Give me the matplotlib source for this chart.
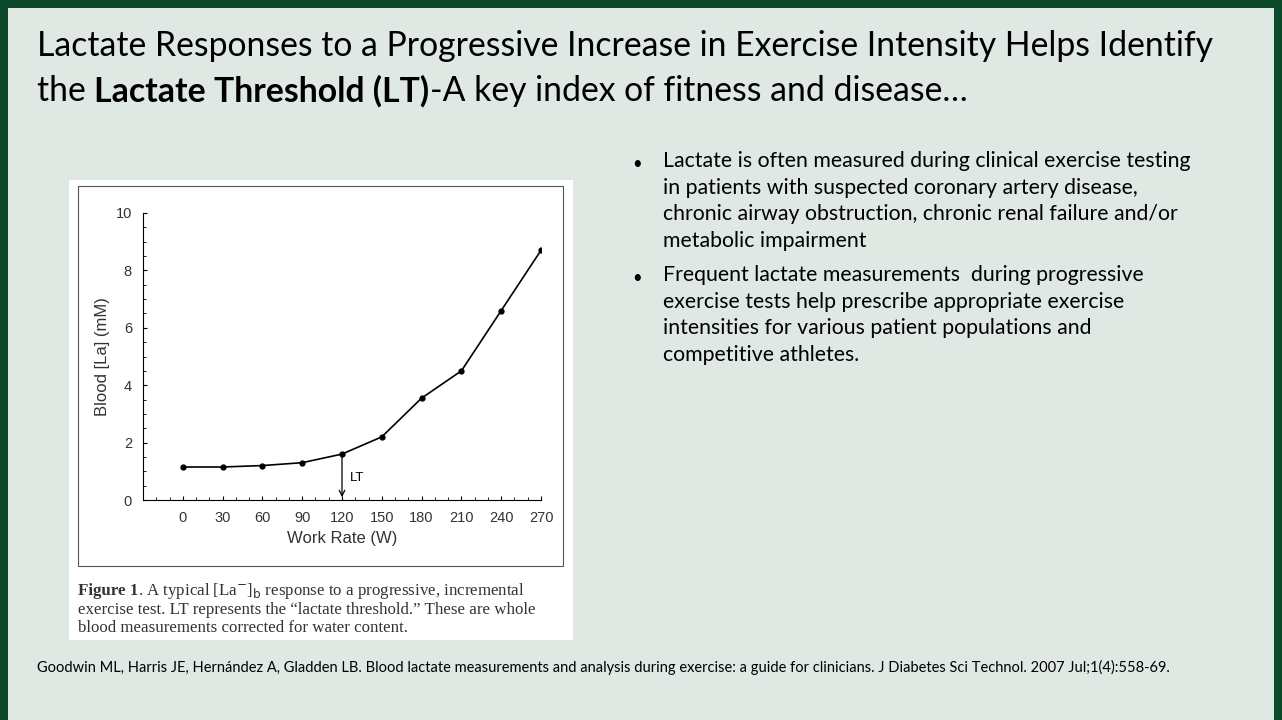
import matplotlib.pyplot as plt
from matplotlib.patches import Rectangle
from matplotlib.text import Annotation
from matplotlib.ticker import MultipleLocator

work_rate = [0, 30, 60, 90, 120, 150, 180, 210, 240, 270]
lactate = [1.15, 1.15, 1.2, 1.3, 1.6, 2.2, 3.55, 4.5, 6.6, 8.7]
lt_rate = 120

bullets = [
    "Lactate is often measured during clinical exercise testing\nin patients with suspected coronary artery disease,\nchronic airway obstruction, chronic renal failure and/or\nmetabolic impairment",
    "Frequent lactate measurements  during progressive\nexercise tests help prescribe appropriate exercise\nintensities for various patient populations and\ncompetitive athletes.",
]

W, H = 1282, 720
fig = plt.figure(figsize=(W / 100, H / 100), dpi=100)
fig.patch.set_facecolor("#0b4a2a")

def box(x, y, w, h, **kw):
    fig.patches.append(Rectangle((x / W, 1 - (y + h) / H), w / W, h / H,
                                 transform=fig.transFigure, zorder=-5, **kw))

# slide background and white figure panel
box(8, 8, 1266, 712, facecolor="#e0e8e3", edgecolor="none")
box(69, 180, 504, 460, facecolor="white", edgecolor="none")
box(78, 186, 485, 380, facecolor="none", edgecolor="#555555", lw=0.8)

def t(x, y, s, **kw):
    return fig.text(x / W, 1 - y / H, s, va="center", **kw)

def after(prev, y, s, **kw):
    # continue the same line right after the previous piece
    a = Annotation(s, xy=(1, 1 - y / H), xycoords=(prev, "figure fraction"),
                   va="center", annotation_clip=False, **kw)
    fig.add_artist(a)
    return a

title_font = "Lato"
ts = 24.3
t(37, 46, "Lactate Responses to a Progressive Increase in Exercise Intensity Helps Identify",
  fontsize=ts, family=title_font)
a = t(37, 91, "the ", fontsize=ts, family=title_font)
b = after(a, 91, "Lactate Threshold (LT)", fontsize=ts, family=title_font, weight="bold")
after(b, 91, "-A key index of fitness and disease\u2026", fontsize=ts, family=title_font)

y0 = 164
for s in bullets:
    t(632, y0, "\u2022", fontsize=12, family=title_font)
    fig.text(663 / W, 1 - (y0 - 13) / H, s, fontsize=15.3, family=title_font,
             va="top", linespacing=1.42)
    y0 += 114

t(37, 667, "Goodwin ML, Harris JE, Hern\u00e1ndez A, Gladden LB. Blood lactate measurements and analysis during exercise: a guide for clinicians. J Diabetes Sci Technol. 2007 Jul;1(4):558-69.",
  fontsize=10.5, family=title_font)

cap = "Liberation Serif"
cs = 12.2
f1 = t(78, 591, "Figure 1", fontsize=cs, family=cap, weight="bold", color="#333333")
after(f1, 591, ". A typical [La$^{-}$]$_{\\rm b}$ response to a progressive, incremental",
      fontsize=cs, family=cap, color="#333333")
t(78, 610, "exercise test. LT represents the \u201clactate threshold.\u201d These are whole",
  fontsize=cs, family=cap, color="#333333")
t(78, 628, "blood measurements corrected for water content.",
  fontsize=cs, family=cap, color="#333333")

ax = fig.add_axes([143 / W, 1 - 500 / H, 398 / W, 287 / H])
ax.set_facecolor("none")
ax.plot(work_rate, lactate, color="black", lw=1.2, marker="o", ms=3.5)
ax.annotate("", xy=(lt_rate, 0), xytext=(lt_rate, lactate[work_rate.index(lt_rate)]),
            arrowprops=dict(arrowstyle="->", lw=0.9, color="black"))
ax.text(lt_rate + 6, 0.75, "LT", fontsize=9.5, family="Liberation Sans", va="center")
ax.set_xlim(-30, 270)
ax.set_ylim(0, 10)
ax.set_xticks(work_rate)
ax.set_yticks(range(0, 11, 2))
ax.xaxis.set_minor_locator(MultipleLocator(10))
ax.yaxis.set_minor_locator(MultipleLocator(0.5))
ax.tick_params(which="both", direction="in", length=3, labelsize=10.5, pad=8)
ax.tick_params(which="minor", length=2)
for lab in ax.get_xticklabels() + ax.get_yticklabels():
    lab.set_family("Liberation Sans")
    lab.set_color("#333333")
ax.spines["top"].set_visible(False)
ax.spines["right"].set_visible(False)
ax.set_xlabel("Work Rate (W)", fontsize=12, family="Liberation Sans", color="#333333")
ax.set_ylabel("Blood [La] (mM)", fontsize=12, family="Liberation Sans", color="#333333")

fig.savefig("out.png", dpi=100, facecolor=fig.get_facecolor())
